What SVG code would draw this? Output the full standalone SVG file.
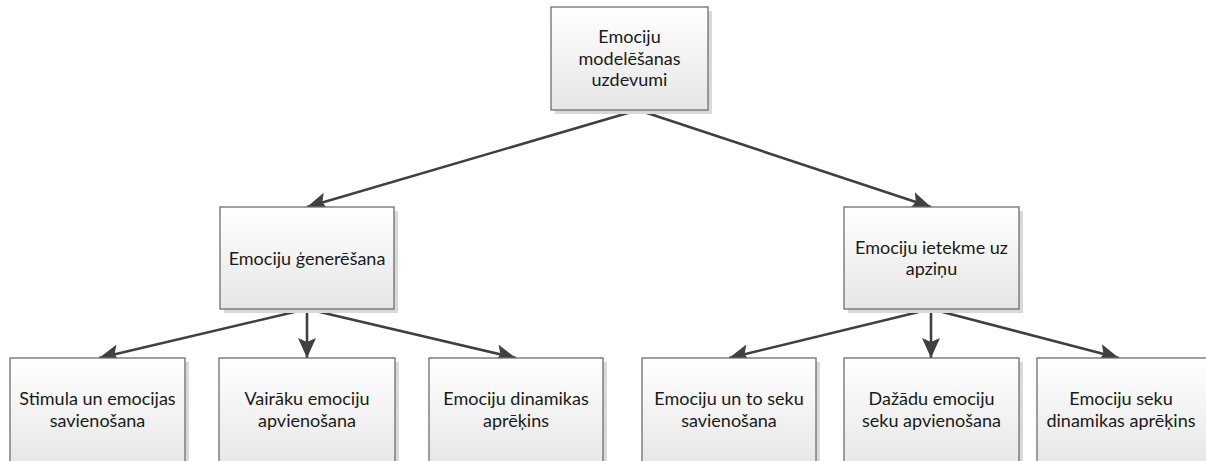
<svg xmlns="http://www.w3.org/2000/svg" width="1206" height="461" viewBox="0 0 1206 461">
  <defs>
    <linearGradient id="boxFill" x1="0" y1="0" x2="0" y2="1">
      <stop offset="0" stop-color="#ffffff"/>
      <stop offset="1" stop-color="#e6e6e6"/>
    </linearGradient>
    <marker id="arrow" markerUnits="userSpaceOnUse" markerWidth="22" markerHeight="18" viewBox="0 0 22 18" refX="20" refY="9" orient="auto">
      <path d="M0,0 L20,9 L0,18 L4,9 Z" fill="#404040"/>
    </marker>
    <style>
      .shadow { fill: #d9d9d9; }
      .box { fill: url(#boxFill); stroke: #6e6e6e; stroke-width: 1.3; }
      .label { font-family: Lato, "Noto Sans", sans-serif; font-size: 18px; fill: #1a1a1a; text-anchor: middle; }
      .edge { stroke: #404040; stroke-width: 2.6; fill: none; marker-end: url(#arrow); }
    </style>
  </defs>
  <rect width="1206" height="461" fill="#ffffff"/>

  <!-- connectors -->
  <g id="connectors">
    <line class="edge" x1="638" y1="110" x2="307" y2="207"/>
    <line class="edge" x1="638" y1="110" x2="931" y2="207"/>
    <line class="edge" x1="307" y1="309" x2="99" y2="358"/>
    <line class="edge" x1="307" y1="309" x2="307" y2="358"/>
    <line class="edge" x1="307" y1="309" x2="516" y2="358"/>
    <line class="edge" x1="931" y1="309" x2="729" y2="358"/>
    <line class="edge" x1="931" y1="309" x2="931" y2="358"/>
    <line class="edge" x1="931" y1="309" x2="1119" y2="358"/>
  </g>

  <!-- root -->
  <g id="root">
    <rect class="shadow" x="555" y="11" width="157" height="103"/>
    <rect class="box" x="551" y="7" width="157" height="103"/>
    <text class="label" x="629.5" y="43">Emociju</text>
    <text class="label" x="629.5" y="65">modelēšanas</text>
    <text class="label" x="629.5" y="86">uzdevumi</text>
  </g>

  <!-- second level -->
  <g id="generation">
    <rect class="shadow" x="224" y="211" width="174" height="102"/>
    <rect class="box" x="220" y="207" width="174" height="102"/>
    <text class="label" x="307" y="265">Emociju ģenerēšana</text>
  </g>
  <g id="influence">
    <rect class="shadow" x="848" y="211" width="175" height="102"/>
    <rect class="box" x="844" y="207" width="175" height="102"/>
    <text class="label" x="931.5" y="253.5">Emociju ietekme uz</text>
    <text class="label" x="931.5" y="275">apziņu</text>
  </g>

  <!-- third level: generation -->
  <g id="stimulus">
    <rect class="shadow" x="14" y="362" width="175" height="110"/>
    <rect class="box" x="10" y="358" width="175" height="110"/>
    <text class="label" x="97.5" y="405">Stimula un emocijas</text>
    <text class="label" x="97.5" y="426.5">savienošana</text>
  </g>
  <g id="combine">
    <rect class="shadow" x="223" y="362" width="176" height="110"/>
    <rect class="box" x="219" y="358" width="176" height="110"/>
    <text class="label" x="307" y="405">Vairāku emociju</text>
    <text class="label" x="307" y="426.5">apvienošana</text>
  </g>
  <g id="dynamics">
    <rect class="shadow" x="433" y="362" width="174" height="110"/>
    <rect class="box" x="429" y="358" width="174" height="110"/>
    <text class="label" x="516" y="405">Emociju dinamikas</text>
    <text class="label" x="516" y="426.5">aprēķins</text>
  </g>

  <!-- third level: influence -->
  <g id="consequences">
    <rect class="shadow" x="646" y="362" width="174" height="110"/>
    <rect class="box" x="642" y="358" width="174" height="110"/>
    <text class="label" x="729" y="405">Emociju un to seku</text>
    <text class="label" x="729" y="426.5">savienošana</text>
  </g>
  <g id="combine-consequences">
    <rect class="shadow" x="848" y="362" width="175" height="110"/>
    <rect class="box" x="844" y="358" width="175" height="110"/>
    <text class="label" x="931.5" y="405">Dažādu emociju</text>
    <text class="label" x="931.5" y="426.5">seku apvienošana</text>
  </g>
  <g id="consequence-dynamics">
    <rect class="shadow" x="1041" y="362" width="172" height="110"/>
    <rect class="box" x="1037" y="358" width="172" height="110"/>
    <text class="label" x="1121" y="405">Emociju seku</text>
    <text class="label" x="1121" y="426.5">dinamikas aprēķins</text>
  </g>
</svg>
